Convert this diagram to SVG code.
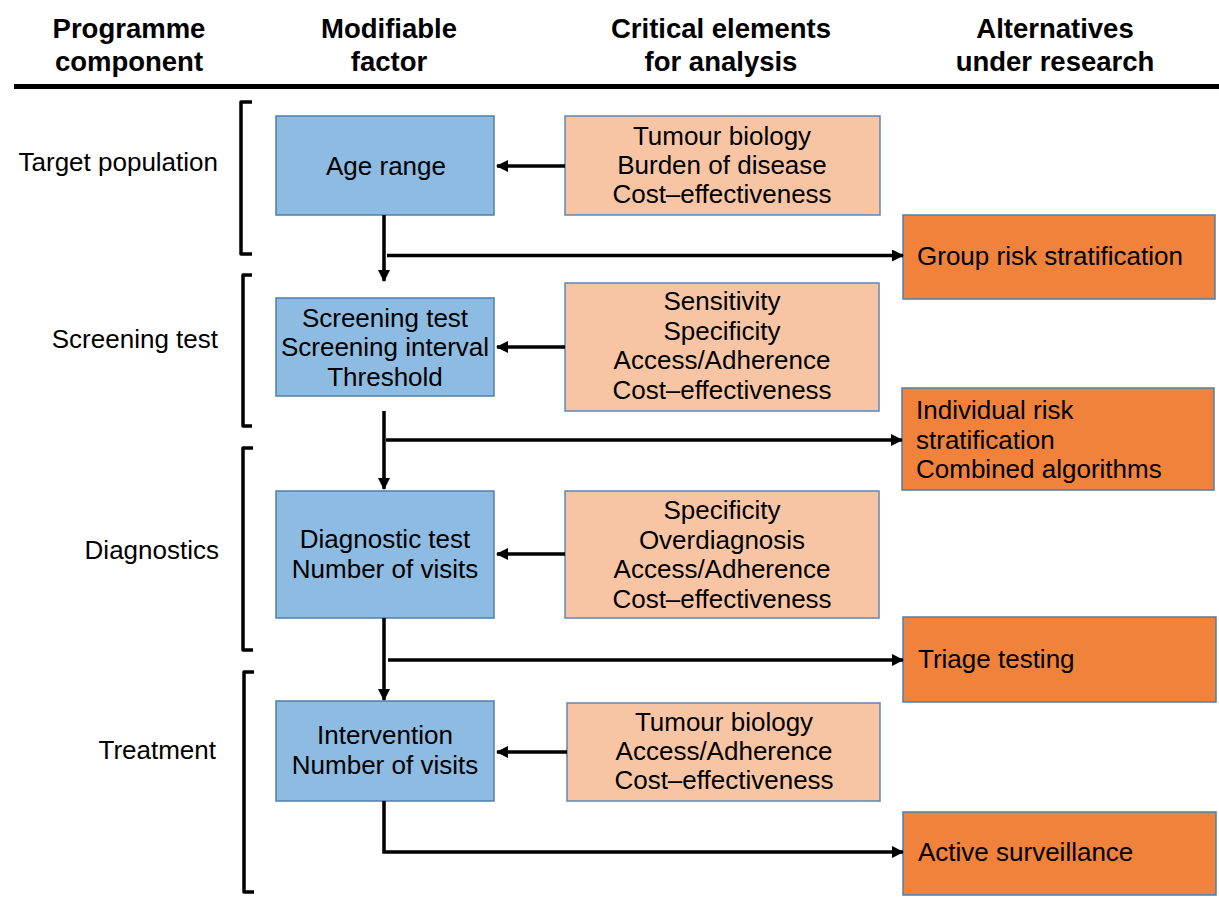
<svg xmlns="http://www.w3.org/2000/svg" width="1219" height="921" viewBox="0 0 1219 921">
  <style>
    text { font-family: "Liberation Sans", Arial, sans-serif; font-size: 26px; fill: #000; }
    .hdr { font-weight: bold; font-size: 27.5px; text-anchor: middle; }
    .lbl { text-anchor: end; }
    .mid { text-anchor: middle; }
    .factor { fill: #8DBBE2; stroke: #4F7FAE; stroke-width: 1.5; }
    .element { fill: #F8C5A4; stroke: #5F86B3; stroke-width: 1.5; }
    .alt { fill: #F0823C; stroke: #4F7FAE; stroke-width: 1.5; }
    .bracket { fill: none; stroke: #000; stroke-width: 3.5; stroke-linejoin: round; }
    .conn { fill: none; stroke: #000; stroke-width: 3.5; }
  </style>
  <defs>
    <marker id="arrow" viewBox="0 0 12 12" refX="11" refY="6" markerWidth="12" markerHeight="12" markerUnits="userSpaceOnUse" orient="auto">
      <path d="M0,0 L12,6 L0,12 Z" fill="#000"/>
    </marker>
  </defs>

  <rect width="1219" height="921" fill="#fff"/>

  <!-- Column headings -->
  <g id="headings">
    <text class="hdr" x="129" y="38">Programme</text>
    <text class="hdr" x="129" y="71">component</text>
    <text class="hdr" x="389" y="38">Modifiable</text>
    <text class="hdr" x="389" y="71">factor</text>
    <text class="hdr" x="721" y="38">Critical elements</text>
    <text class="hdr" x="721" y="71">for analysis</text>
    <text class="hdr" x="1055" y="38">Alternatives</text>
    <text class="hdr" x="1055" y="71">under research</text>
    <line x1="14" y1="86.5" x2="1219" y2="86.5" stroke="#000" stroke-width="5"/>
  </g>

  <!-- Programme components with brackets -->
  <g id="component-target">
    <text class="lbl" x="218" y="171">Target population</text>
    <path class="bracket" d="M252,102 H241 V254 H252"/>
  </g>
  <g id="component-screening">
    <text class="lbl" x="218" y="348">Screening test</text>
    <path class="bracket" d="M252,275 H243 V426 H252"/>
  </g>
  <g id="component-diagnostics">
    <text class="lbl" x="219" y="559">Diagnostics</text>
    <path class="bracket" d="M253,448 H243 V650 H253"/>
  </g>
  <g id="component-treatment">
    <text class="lbl" x="216" y="759">Treatment</text>
    <path class="bracket" d="M254,672 H244 V892 H254"/>
  </g>

  <!-- Modifiable factors -->
  <g id="factor-age">
    <rect class="factor" x="276" y="116" width="218" height="99"/>
    <text class="mid" x="386" y="175">Age range</text>
  </g>
  <g id="factor-screening">
    <rect class="factor" x="276" y="298" width="218" height="98"/>
    <text class="mid" x="385" y="327">Screening test</text>
    <text class="mid" x="385" y="356">Screening interval</text>
    <text class="mid" x="385" y="386">Threshold</text>
  </g>
  <g id="factor-diagnostic">
    <rect class="factor" x="276" y="491" width="218" height="127"/>
    <text class="mid" x="385" y="548">Diagnostic test</text>
    <text class="mid" x="385" y="578">Number of visits</text>
  </g>
  <g id="factor-intervention">
    <rect class="factor" x="276" y="701" width="218" height="100"/>
    <text class="mid" x="385" y="744">Intervention</text>
    <text class="mid" x="385" y="774">Number of visits</text>
  </g>

  <!-- Critical elements for analysis -->
  <g id="elements-age">
    <rect class="element" x="565" y="116" width="315" height="99"/>
    <text class="mid" x="722" y="145">Tumour biology</text>
    <text class="mid" x="722" y="174">Burden of disease</text>
    <text class="mid" x="722" y="203">Cost–effectiveness</text>
  </g>
  <g id="elements-screening">
    <rect class="element" x="565" y="283" width="314" height="128"/>
    <text class="mid" x="722" y="310">Sensitivity</text>
    <text class="mid" x="722" y="339.5">Specificity</text>
    <text class="mid" x="722" y="369">Access/Adherence</text>
    <text class="mid" x="722" y="398.5">Cost–effectiveness</text>
  </g>
  <g id="elements-diagnostic">
    <rect class="element" x="565" y="491" width="314" height="127"/>
    <text class="mid" x="722" y="519">Specificity</text>
    <text class="mid" x="722" y="548.5">Overdiagnosis</text>
    <text class="mid" x="722" y="578">Access/Adherence</text>
    <text class="mid" x="722" y="607.5">Cost–effectiveness</text>
  </g>
  <g id="elements-intervention">
    <rect class="element" x="567" y="703" width="313" height="98"/>
    <text class="mid" x="724" y="731">Tumour biology</text>
    <text class="mid" x="724" y="760">Access/Adherence</text>
    <text class="mid" x="724" y="789">Cost–effectiveness</text>
  </g>

  <!-- Alternatives under research -->
  <g id="alt-group-risk">
    <rect class="alt" x="903" y="215" width="312" height="84"/>
    <text x="917" y="265">Group risk stratification</text>
  </g>
  <g id="alt-individual-risk">
    <rect class="alt" x="902" y="388" width="312" height="102"/>
    <text x="916" y="419">Individual risk</text>
    <text x="916" y="448.5">stratification</text>
    <text x="916" y="478">Combined algorithms</text>
  </g>
  <g id="alt-triage">
    <rect class="alt" x="903" y="617" width="313" height="85"/>
    <text x="918" y="668">Triage testing</text>
  </g>
  <g id="alt-surveillance">
    <rect class="alt" x="903" y="812" width="313" height="83"/>
    <text x="918" y="861">Active surveillance</text>
  </g>

  <!-- Connectors -->
  <g id="connectors">
    <!-- critical elements feed the modifiable factors -->
    <line class="conn" x1="565" y1="166" x2="497" y2="166" marker-end="url(#arrow)"/>
    <line class="conn" x1="565" y1="347" x2="497" y2="347" marker-end="url(#arrow)"/>
    <line class="conn" x1="565" y1="554" x2="497" y2="554" marker-end="url(#arrow)"/>
    <line class="conn" x1="567" y1="752" x2="497" y2="752" marker-end="url(#arrow)"/>

    <!-- programme flow down the factor column -->
    <line class="conn" x1="384" y1="215" x2="384" y2="281" marker-end="url(#arrow)"/>
    <line class="conn" x1="384" y1="411" x2="384" y2="489" marker-end="url(#arrow)"/>
    <line class="conn" x1="384" y1="618" x2="384" y2="700" marker-end="url(#arrow)"/>

    <!-- branches to the alternatives -->
    <line class="conn" x1="387" y1="255.5" x2="903" y2="255.5" marker-end="url(#arrow)"/>
    <line class="conn" x1="386" y1="440" x2="902" y2="440" marker-end="url(#arrow)"/>
    <line class="conn" x1="388" y1="660" x2="903" y2="660" marker-end="url(#arrow)"/>
    <path class="conn" d="M384,801 V852 H903" marker-end="url(#arrow)"/>
  </g>
</svg>
